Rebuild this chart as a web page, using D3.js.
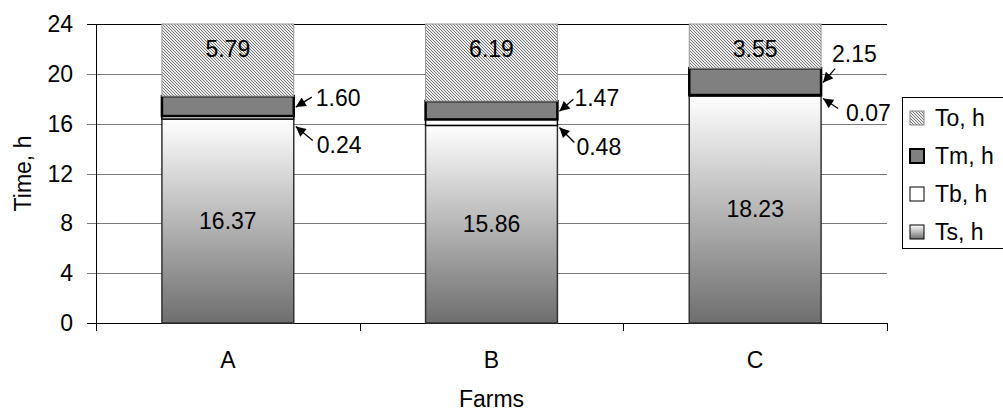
<!DOCTYPE html>
<html>
<head>
<meta charset="utf-8">
<script src="https://cdn.jsdelivr.net/npm/d3@7"></script>
<style>
  body { margin: 0; background: #fff; }
  svg { font-family: "Liberation Sans", Arial, sans-serif; }
</style>
</head>
<body>
<svg id="chart" width="1003" height="412"></svg>
<script>
// data
var farms = ["A", "B", "C"];
var ts = [16.37, 15.86, 18.23];
var tb = [0.24, 0.48, 0.07];
var tm = [1.60, 1.47, 2.15];
var to = [5.79, 6.19, 3.55];
var keys = ["Ts", "Tb", "Tm", "To"];
var legendNames = ["To, h", "Tm, h", "Tb, h", "Ts, h"];
var yTicks = [0, 4, 8, 12, 16, 20, 24];

// where the small-segment callouts sit (head offset, tail offset, label offset from tail)
var callouts = [
    {key: "Tm", farm: "A", hy: 1, tx: 16, ty: -10, lx: 4, ly: 1},
    {key: "Tb", farm: "A", hy: 9, tx: 17, ty: 14, lx: 4, ly: 4},
    {key: "Tm", farm: "B", hy: 1, tx: 14, ty: -12, lx: 1, ly: -1},
    {key: "Tb", farm: "B", hy: 5, tx: 15, ty: 15, lx: 2, ly: 5},
    {key: "Tm", farm: "C", hy: 1, tx: 12, ty: -14, lx: -3, ly: -15},
    {key: "Tb", farm: "C", hy: 3, tx: 15, ty: 10, lx: 8, ly: 5}
];

var table = farms.map(function (f, i) {
    return {farm: f, Ts: ts[i], Tb: tb[i], Tm: tm[i], To: to[i]};
});

var svg = d3.select("#chart");
var pLeft = 96, pRight = 887, pTop = 24, pBottom = 323;

var x = d3.scaleBand()
    .domain(farms)
    .range([pLeft, pRight])
    .paddingInner(0.5)
    .paddingOuter(0.25);

var y = d3.scaleLinear()
    .domain([0, 24])
    .range([pBottom, pTop]);

var defs = svg.append("defs");

var grad = defs.append("linearGradient")
    .attr("id", "tsGrad")
    .attr("x1", 0).attr("y1", 0).attr("x2", 0).attr("y2", 1);
grad.append("stop").attr("offset", "0%").attr("stop-color", "#ffffff");
grad.append("stop").attr("offset", "100%").attr("stop-color", "#6e6e6e");

var pat = defs.append("pattern")
    .attr("id", "toPat")
    .attr("width", 3).attr("height", 3)
    .attr("patternUnits", "userSpaceOnUse");
pat.append("rect").attr("width", 3).attr("height", 3).attr("fill", "#ececec");
pat.append("path")
    .attr("d", "M-1,-1L4,4M-1,2L1,4M2,-1L4,1")
    .attr("stroke", "#767676")
    .attr("stroke-width", 1);

defs.append("marker")
    .attr("id", "head")
    .attr("viewBox", "0 0 10 10")
    .attr("refX", 10).attr("refY", 5)
    .attr("markerWidth", 11).attr("markerHeight", 10)
    .attr("markerUnits", "userSpaceOnUse")
    .attr("orient", "auto")
    .append("path")
    .attr("d", "M0,0L10,5L0,10Z")
    .attr("fill", "#000");

// gridlines
svg.append("g")
    .selectAll("line")
    .data(yTicks)
    .enter().append("line")
    .attr("x1", pLeft - 9)
    .attr("x2", pRight)
    .attr("y1", function (d) { return Math.round(y(d)) + 0.5; })
    .attr("y2", function (d) { return Math.round(y(d)) + 0.5; })
    .attr("stroke", function (d) { return d === 24 || d === 0 ? "#000" : "#7a7a7a"; })
    .attr("stroke-width", 1);

// y axis
svg.append("line")
    .attr("x1", pLeft + 0.5).attr("x2", pLeft + 0.5)
    .attr("y1", y(24)).attr("y2", y(0) + 1)
    .attr("stroke", "#000");

svg.append("g")
    .selectAll("text")
    .data(yTicks)
    .enter().append("text")
    .attr("x", 73)
    .attr("y", function (d) { return y(d); })
    .attr("dy", "0.35em")
    .attr("text-anchor", "end")
    .attr("font-size", 23)
    .text(function (d) { return d; });

svg.append("text")
    .attr("transform", "translate(31," + ((pTop + pBottom) / 2) + ") rotate(-90)")
    .attr("text-anchor", "middle")
    .attr("font-size", 23)
    .text("Time, h");

// x axis ticks between categories
var step = x.step();
var bounds = d3.range(farms.length + 1).map(function (i) { return pLeft + i * step; });
svg.append("g")
    .selectAll("line")
    .data(bounds)
    .enter().append("line")
    .attr("x1", function (d) { return Math.round(d) + 0.5; })
    .attr("x2", function (d) { return Math.round(d) + 0.5; })
    .attr("y1", pBottom).attr("y2", pBottom + 8)
    .attr("stroke", "#000");

svg.append("g")
    .selectAll("text")
    .data(farms)
    .enter().append("text")
    .attr("x", function (d) { return x(d) + x.bandwidth() / 2; })
    .attr("y", 360)
    .attr("dy", "0.35em")
    .attr("text-anchor", "middle")
    .attr("font-size", 23)
    .text(function (d) { return d; });

svg.append("text")
    .attr("x", (pLeft + pRight) / 2)
    .attr("y", 399)
    .attr("dy", "0.35em")
    .attr("text-anchor", "middle")
    .attr("font-size", 23)
    .text("Farms");

// stacked bars
var stack = d3.stack().keys(keys)(table);
var fills = {Ts: "url(#tsGrad)", Tb: "#ffffff", Tm: "#808080", To: "url(#toPat)"};
var strokes = {Ts: "#333", Tb: "#000", Tm: "#000", To: "#999"};
var widths = {Ts: 1.5, Tb: 1.5, Tm: 2.5, To: 1};

var layers = svg.append("g")
    .selectAll("g")
    .data(stack)
    .enter().append("g");

layers.selectAll("rect")
    .data(function (s) { return s.map(function (d) { return {key: s.key, d: d}; }); })
    .enter().append("rect")
    .attr("x", function (o) { return x(o.d.data.farm); })
    .attr("y", function (o) { return y(o.d[1]); })
    .attr("width", x.bandwidth())
    .attr("height", function (o) { return y(o.d[0]) - y(o.d[1]); })
    .attr("fill", function (o) { return fills[o.key]; })
    .attr("stroke", function (o) { return strokes[o.key]; })
    .attr("stroke-width", function (o) { return widths[o.key]; });

// labels inside bars
function seg(key, farm) {
    var s = stack.filter(function (l) { return l.key === key; })[0];
    return s.filter(function (d) { return d.data.farm === farm; })[0];
}

svg.append("g")
    .selectAll("text")
    .data(table)
    .enter().append("text")
    .attr("x", function (d) { return x(d.farm) + x.bandwidth() / 2; })
    .attr("y", function (d) { var s = seg("Ts", d.farm); return (y(s[0]) + y(s[1])) / 2; })
    .attr("dy", "0.35em")
    .attr("text-anchor", "middle")
    .attr("font-size", 23)
    .text(function (d) { return d.Ts.toFixed(2); });

svg.append("g")
    .selectAll("text")
    .data(table)
    .enter().append("text")
    .attr("x", function (d) { return x(d.farm) + x.bandwidth() / 2; })
    .attr("y", function (d) { return y(seg("To", d.farm)[1] - 2); })
    .attr("dy", "0.35em")
    .attr("text-anchor", "middle")
    .attr("font-size", 23)
    .text(function (d) { return d.To.toFixed(2); });

// callouts for the thin segments
callouts.forEach(function (c) {
    var s = seg(c.key, c.farm);
    var hx = x(c.farm) + x.bandwidth() + 2;
    var hy = (y(s[0]) + y(s[1])) / 2 + c.hy;
    svg.append("line")
        .attr("x1", hx + c.tx).attr("y1", hy + c.ty)
        .attr("x2", hx).attr("y2", hy)
        .attr("stroke", "#000")
        .attr("stroke-width", 1.3)
        .attr("marker-end", "url(#head)");
    svg.append("text")
        .attr("x", hx + c.tx + c.lx)
        .attr("y", hy + c.ty + c.ly)
        .attr("dy", "0.35em")
        .attr("font-size", 23)
        .text(s.data[c.key].toFixed(2));
});

// legend
var lg = svg.append("g").attr("transform", "translate(902,97)");
lg.append("rect")
    .attr("x", 0.5).attr("y", 0.5)
    .attr("width", 140).attr("height", 151)
    .attr("fill", "#fff")
    .attr("stroke", "#000");

var legendKeys = ["To", "Tm", "Tb", "Ts"];
var items = lg.selectAll(".item")
    .data(legendKeys)
    .enter().append("g")
    .attr("transform", function (d, i) { return "translate(8," + (21 + i * 38) + ")"; });

items.append("rect")
    .attr("x", 0).attr("y", -7)
    .attr("width", 14).attr("height", 14)
    .attr("fill", function (d) { return fills[d]; })
    .attr("stroke", function (d) { return d === "To" ? "#888" : "#000"; })
    .attr("stroke-width", function (d) { return d === "Tm" ? 2 : 1; });

items.append("text")
    .attr("x", 25)
    .attr("y", 0)
    .attr("dy", "0.35em")
    .attr("font-size", 23)
    .text(function (d, i) { return legendNames[i]; });
</script>
</body>
</html>
